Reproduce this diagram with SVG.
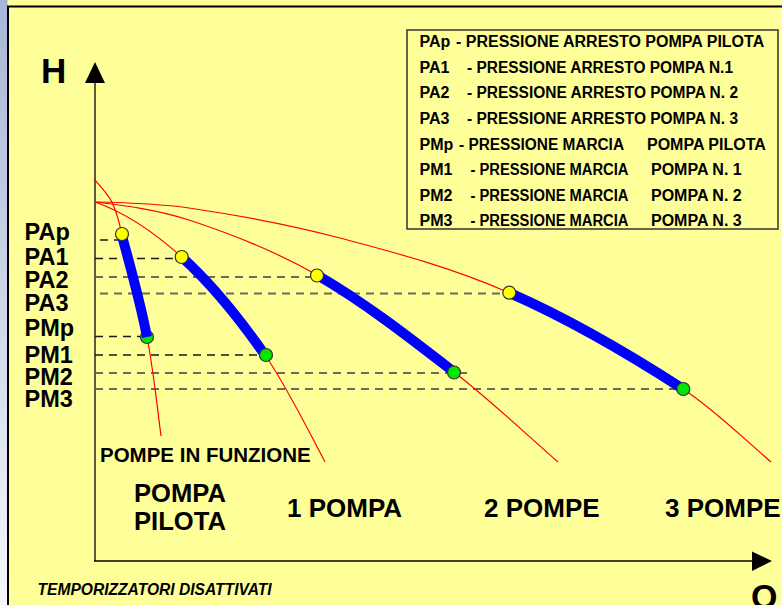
<svg xmlns="http://www.w3.org/2000/svg" width="782" height="605" viewBox="0 0 782 605">
<defs>
<linearGradient id="strip" x1="0" y1="0" x2="0" y2="1">
<stop offset="0" stop-color="#A9B5D7"/>
<stop offset="1" stop-color="#F5F7FC"/>
</linearGradient>
<style>
text{font-family:"Liberation Sans",Arial,sans-serif;font-weight:bold;fill:#000}
.red{fill:none;stroke:#FF0000;stroke-width:1.2}
.blue{fill:none;stroke:#0000FF;stroke-width:10;stroke-linecap:butt}
.dk{fill:none;stroke:#1a1a1a;stroke-width:1.4;stroke-dasharray:8 6}
.gy{fill:none;stroke:#6b6b58;stroke-width:2;stroke-dasharray:8 6}
.yel{fill:#FFFF00;stroke:#333;stroke-width:1.2}
.grn{fill:#00E600;stroke:#333;stroke-width:1.2}
.ylab{font-size:23.5px}
.leg{font-size:16px}
.big{font-size:26px}
</style>
</defs>
<rect x="0" y="0" width="782" height="605" fill="#FFFF99"/>
<rect x="0" y="0" width="7.5" height="605" fill="url(#strip)"/>
<path d="M8,606 V6.5 H784" fill="none" stroke="#000" stroke-width="2"/>

<g id="axes">
<line x1="95" y1="80" x2="95" y2="561" stroke="#5a5a3c" stroke-width="2"/>
<polygon points="95,62 85,83 105,83" fill="#000"/>
<line x1="94" y1="561" x2="754" y2="561" stroke="#000" stroke-width="1.5"/>
<polygon points="772,561 752,551.5 752,571" fill="#000"/>
<text x="41" y="83" font-size="35">H</text>
<text x="751" y="608" font-size="34">Q</text>
</g>

<g id="dashes">
<path class="dk" d="M100,240 H118"/>
<path class="dk" d="M95,258.5 H177"/>
<path class="gy" d="M95,277 H311"/>
<path class="gy" d="M100,293.5 H504"/>
<path class="dk" d="M95,336.5 H142"/>
<path class="dk" d="M95,355 H261"/>
<path class="gy" d="M95,373 H468"/>
<path class="gy" d="M95,389 H678"/>
</g>

<g id="connectors">
<path id="curve-pilot" class="red" d="M94,179 C100.8,186.6 107.8,194.1 111.7,201.7 C117.2,212.5 119.2,223.2 122,234 C130.9,268.3 140.4,302.7 147,337 C153.4,370 156.7,403 161,436"/>
<path id="curve-1" class="red" d="M95,202 C123.9,212.1 152.8,231 181.7,257 C209.5,282 237.2,315.3 265,355 C285,383.6 305,424 325,462"/>
<path id="curve-2" class="red" d="M95,202 C126.3,205.8 157.7,209.7 189,220 C231.7,234 274.3,250.5 317,275 C362.7,301.2 408.3,336.6 454,372 C488.7,398.9 523.3,431.5 558,462"/>
<path id="curve-3" class="red" d="M95,202 C126.3,202.6 157.7,203.4 189,208 C239.3,215.4 289.7,224.7 340,238 C396.3,252.9 452.7,267.9 509,292.7 C567,318.2 625,351.5 683,389 C712.3,408 741.7,436.8 771,462"/>
</g>

<g id="range-pilot">
<circle class="grn" cx="147" cy="337" r="6.5"/>
<path class="blue" d="M122,236 C130.9,268.3 140.4,302.7 147,337"/>
<circle class="yel" cx="122" cy="234" r="6.5"/>
</g>
<g id="range-1">
<path class="blue" d="M181.7,257 C209.5,282 237.2,315.3 265,355"/>
<circle class="yel" cx="181.7" cy="257" r="6.5"/>
<circle class="grn" cx="266" cy="355" r="6.5"/>
</g>
<g id="range-2">
<path class="blue" d="M317,275 C362.7,301.2 408.3,336.6 454,372"/>
<circle class="yel" cx="317" cy="275.5" r="6.5"/>
<circle class="grn" cx="454" cy="372.5" r="6.5"/>
</g>
<g id="range-3">
<path class="blue" d="M509,292.7 C567,318.2 625,351.5 683,389"/>
<circle class="yel" cx="509.3" cy="292.7" r="6.5"/>
<circle class="grn" cx="683.3" cy="389" r="6.5"/>
</g>

<g id="y-labels" class="ylab">
<text x="24.5" y="240">PAp</text>
<text x="24.5" y="265">PA1</text>
<text x="24.5" y="287.5">PA2</text>
<text x="24.5" y="310.5">PA3</text>
<text x="24.5" y="336">PMp</text>
<text x="24.5" y="362.5">PM1</text>
<text x="24.5" y="384.5">PM2</text>
<text x="24.5" y="407">PM3</text>
</g>

<g id="zone-labels">
<text x="100" y="461.5" font-size="20.5">POMPE IN FUNZIONE</text>
<text x="134" y="501.7" font-size="25.6">POMPA</text>
<text x="134" y="530" font-size="25.6">PILOTA</text>
<text class="big" x="287" y="516.5">1 POMPA</text>
<text class="big" x="484" y="516.5">2 POMPE</text>
<text class="big" x="665" y="516.5">3 POMPE</text>
<text x="37.5" y="595" font-size="15.6" font-style="italic">TEMPORIZZATORI DISATTIVATI</text>
</g>

<g id="legend" class="leg">
<rect x="407" y="30" width="371" height="199" fill="none" stroke="#333" stroke-width="1.5"/>
<text x="419.5" y="46.5">PAp</text><text x="456" y="46.5">- PRESSIONE ARRESTO POMPA PILOTA</text>
<text x="419.5" y="72.5">PA1</text><text x="467" y="72.5" textLength="266" lengthAdjust="spacingAndGlyphs">- PRESSIONE ARRESTO POMPA N.1</text>
<text x="419.5" y="98">PA2</text><text x="467" y="98" textLength="271" lengthAdjust="spacingAndGlyphs">- PRESSIONE ARRESTO POMPA N. 2</text>
<text x="419.5" y="123.5">PA3</text><text x="467" y="123.5" textLength="271" lengthAdjust="spacingAndGlyphs">- PRESSIONE ARRESTO POMPA N. 3</text>
<text x="419.5" y="149.5">PMp</text><text x="459" y="149.5" textLength="165" lengthAdjust="spacingAndGlyphs">- PRESSIONE MARCIA</text><text x="647" y="149.5">POMPA PILOTA</text>
<text x="419.5" y="175">PM1</text><text x="470.5" y="175" textLength="158" lengthAdjust="spacingAndGlyphs">- PRESSIONE MARCIA</text><text x="651" y="175">POMPA N. 1</text>
<text x="419.5" y="200.5">PM2</text><text x="470.5" y="200.5" textLength="158" lengthAdjust="spacingAndGlyphs">- PRESSIONE MARCIA</text><text x="651" y="200.5">POMPA N. 2</text>
<text x="419.5" y="226">PM3</text><text x="470.5" y="226" textLength="158" lengthAdjust="spacingAndGlyphs">- PRESSIONE MARCIA</text><text x="651" y="226">POMPA N. 3</text>
</g>
</svg>
